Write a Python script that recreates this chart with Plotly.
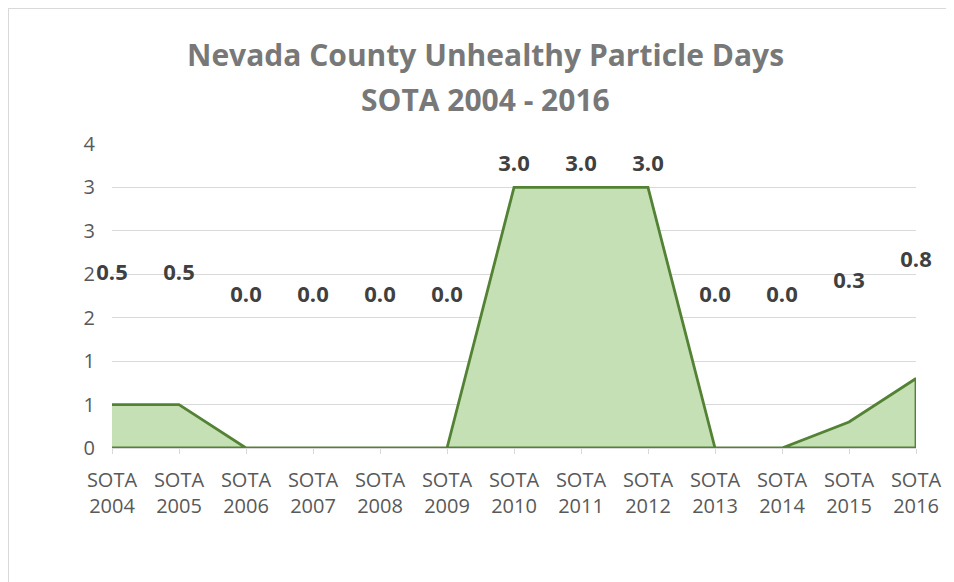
import plotly.graph_objects as go

# data
years = ["2004", "2005", "2006", "2007", "2008", "2009", "2010",
         "2011", "2012", "2013", "2014", "2015", "2016"]
days = [0.5, 0.5, 0.0, 0.0, 0.0, 0.0, 3.0, 3.0, 3.0, 0.0, 0.0, 0.3, 0.8]
y_ticks = [0, 0.5, 1, 1.5, 2, 2.5, 3, 3.5]
y_tick_labels = ["0", "1", "1", "2", "2", "3", "3", "4"]
title_lines = ["Nevada County Unhealthy Particle Days", "SOTA 2004 - 2016"]

# page body has an 8px margin, so the figure is drawn 8px in
W, H = 946, 574
L, R, T, B = 104, 38, 136, 134
y_max = 3.5
font = "Open Sans, sans-serif"

cats = ["SOTA<br>" + y for y in years]
pw, ph = W - L - R, H - T - B


def px_x(x):
    return (x - L) / pw


def px_y(y):
    return 1 + (T - y) / ph


fig = go.Figure()

# closed area outline (values along the top, zero baseline back)
fig.add_trace(go.Scatter(
    x=cats + cats[::-1],
    y=days + [0] * len(days),
    fill="toself",
    fillcolor="#c5e0b4",
    mode="lines",
    line=dict(color="#548235", width=2.8),
    hoverinfo="skip",
    showlegend=False
))

# data labels sit halfway between the value and the axis top (Excel style)
fig.add_trace(go.Scatter(
    x=cats,
    y=[(v + y_max) / 2 for v in days],
    mode="text",
    text=[f"{v:.1f}" for v in days],
    textfont=dict(family=font, size=22, color="#404040", weight="bold"),
    cliponaxis=False,
    showlegend=False,
    hoverinfo="skip"
))

fig.update_layout(
    width=W, height=H,
    margin=dict(l=L, r=R, t=T, b=B),
    paper_bgcolor="white",
    plot_bgcolor="white",
    xaxis=dict(
        type="category",
        categoryorder="array",
        categoryarray=cats,
        range=[0, len(cats) - 1],
        showgrid=False,
        showline=True,
        linecolor="#d9d9d9",
        ticks="outside",
        ticklen=5,
        tickcolor="#d9d9d9",
        ticklabelstandoff=9,
        tickfont=dict(family=font, size=20, color="#595959"),
        fixedrange=True
    ),
    yaxis=dict(
        range=[0, y_max],
        tickvals=y_ticks,
        ticktext=y_tick_labels,
        showgrid=True,
        gridcolor="#d9d9d9",
        zeroline=False,
        showline=False,
        ticks="",
        ticklabelstandoff=16,
        tickfont=dict(family=font, size=20, color="#595959"),
        fixedrange=True
    )
)

# two-line title
for line, yc in zip(title_lines, [46, 91]):
    fig.add_annotation(
        text=line, xref="paper", yref="paper",
        x=px_x(477), y=px_y(yc), xanchor="center", yanchor="middle",
        showarrow=False,
        font=dict(family=font, size=30, color="#787878", weight="bold")
    )

# light chart border (top and left edges, running off the page)
fig.add_shape(
    type="rect", xref="paper", yref="paper",
    x0=px_x(0), x1=px_x(W + 20),
    y0=px_y(H + 20), y1=px_y(0),
    line=dict(color="#d9d9d9", width=2),
    layer="below"
)

fig.write_html("out.html")
